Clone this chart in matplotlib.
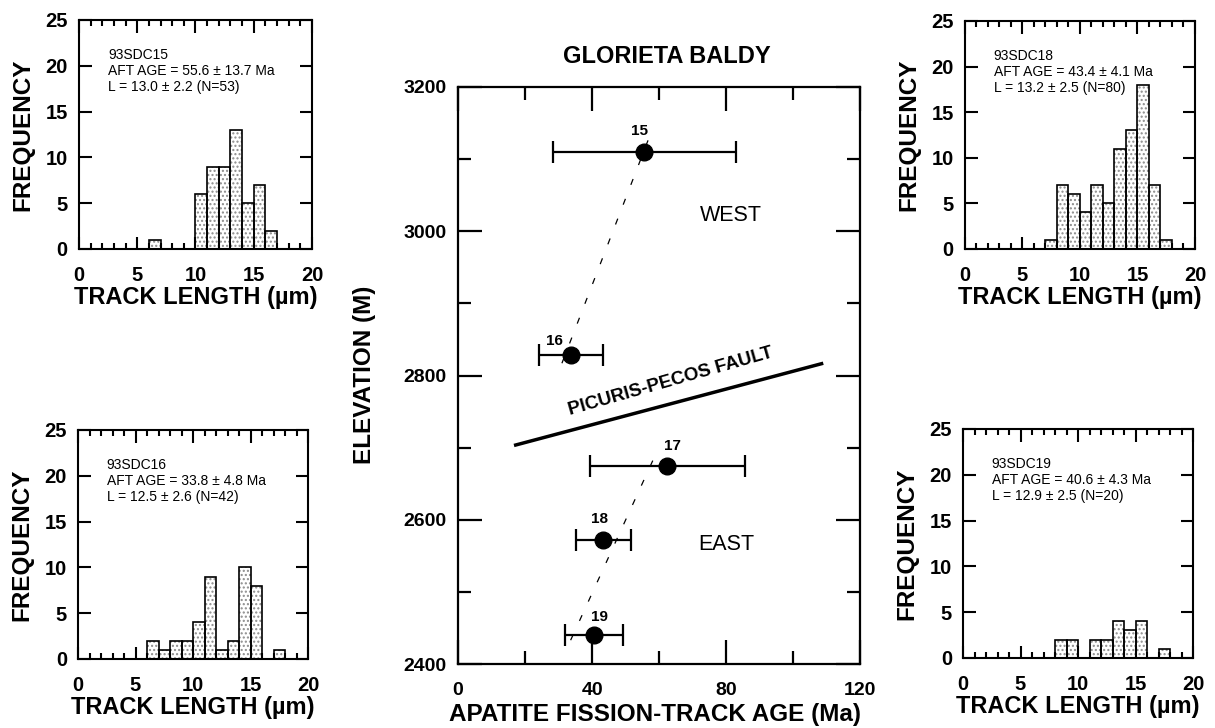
import matplotlib
matplotlib.use("Agg")
import matplotlib.pyplot as plt
import numpy as np

plt.rcParams["font.family"] = ["Liberation Sans", "DejaVu Sans"]
plt.rcParams["font.weight"] = "bold"
plt.rcParams["axes.labelweight"] = "bold"
plt.rcParams["hatch.linewidth"] = 1.0

# 트랙 길이 히스토그램 (1 µm 구간, 0~20)
bin_left = np.arange(20)
freq_15 = [0, 0, 0, 0, 0, 0, 1, 0, 0, 0, 6, 9, 9, 13, 5, 7, 2, 0, 0, 0]
freq_16 = [0, 0, 0, 0, 0, 0, 2, 1, 2, 2, 4, 9, 1, 2, 10, 8, 0, 1, 0, 0]
freq_18 = [0, 0, 0, 0, 0, 0, 0, 1, 7, 6, 4, 7, 5, 11, 13, 18, 7, 1, 0, 0]
freq_19 = [0, 0, 0, 0, 0, 0, 0, 0, 2, 2, 0, 2, 2, 4, 3, 4, 0, 1, 0, 0]

info_15 = "93SDC15\nAFT AGE = 55.6 ± 13.7 Ma\nL = 13.0 ± 2.2 (N=53)"
info_16 = "93SDC16\nAFT AGE = 33.8 ± 4.8 Ma\nL = 12.5 ± 2.6 (N=42)"
info_18 = "93SDC18\nAFT AGE = 43.4 ± 4.1 Ma\nL = 13.2 ± 2.5 (N=80)"
info_19 = "93SDC19\nAFT AGE = 40.6 ± 4.3 Ma\nL = 12.9 ± 2.5 (N=20)"

# 고도-나이 자료
sample_ids = ["15", "16", "17", "18", "19"]
ages = [55.6, 33.8, 62.5, 43.4, 40.6]
age_err = [27.4, 9.6, 23.0, 8.2, 8.6]
elevations = [3110, 2828, 2675, 2572, 2440]
label_offsets = [(-3.6, 15), (-12, 10.5), (3.6, 14.5), (-3.2, 15), (4, 13.2)]

west_trend_age = [31.0, 56.7]
west_trend_elev = [2817, 3126]
east_trend_age = [33.6, 59.3]
east_trend_elev = [2433, 2694]
fault_age = [16.7, 109.0]
fault_elev = [2703, 2817]


def draw_histogram(rect, freq, info):
    ax = fig.add_axes(rect)
    freq = np.array(freq)
    mask = freq > 0
    # 점무늬 채우기
    ax.bar(bin_left[mask], freq[mask], width=1, align="edge", color="white",
           edgecolor="#8c8c8c", hatch="....", linewidth=0)
    ax.bar(bin_left[mask], freq[mask], width=1, align="edge", fill=False,
           edgecolor="black", linewidth=1.2)
    ax.set_xlim(0, 20)
    ax.set_ylim(0, 25)
    ax.set_xticks([0, 5, 10, 15, 20])
    ax.set_xticks(range(21), minor=True)
    ax.set_yticks(range(0, 26, 5))
    ax.tick_params(which="both", direction="in", top=True, right=True, width=1.5)
    ax.tick_params(which="major", length=9, labelsize=14.5)
    ax.tick_params(axis="x", which="major", pad=12)
    ax.tick_params(axis="y", which="major", pad=8)
    ax.tick_params(which="minor", length=4.5)
    for s in ax.spines.values():
        s.set_linewidth(1.5)
    ax.set_xlabel("TRACK LENGTH (µm)", fontsize=17, labelpad=1)
    ax.set_ylabel("FREQUENCY", fontsize=17.5, labelpad=8)
    ax.text(2.5, 21.9, info, fontsize=10, fontweight="normal", va="top",
            ha="left", linespacing=1.15)
    return ax


fig = plt.figure(figsize=(12.15, 7.28), dpi=100)

draw_histogram([0.0650, 0.658, 0.1918, 0.3146], freq_15, info_15)
draw_histogram([0.7942, 0.658, 0.1893, 0.3132], freq_18, info_18)
draw_histogram([0.0642, 0.0948, 0.1893, 0.3146], freq_16, info_16)
draw_histogram([0.7926, 0.0962, 0.1893, 0.3146], freq_19, info_19)

# 가운데 고도-나이 그래프
ax = fig.add_axes([0.377, 0.0879, 0.3309, 0.7926])
ax.plot(west_trend_age, west_trend_elev, color="black", lw=0.9, ls=(0, (5, 12)))
ax.plot(east_trend_age, east_trend_elev, color="black", lw=0.9, ls=(0, (5, 12)))
ax.plot(fault_age, fault_elev, color="black", lw=2.5, solid_capstyle="butt")
ax.errorbar(ages, elevations, xerr=age_err, fmt="o", color="black", ms=12,
            capsize=8, elinewidth=1.6, capthick=1.6, zorder=3)
for sid, x, y, off in zip(sample_ids, ages, elevations, label_offsets):
    ax.annotate(sid, (x, y), xytext=off, textcoords="offset points",
                ha="center", va="center", fontsize=11)

ax.text(81.4, 3022, "WEST", fontsize=15.5, fontweight="normal", ha="center", va="center")
ax.text(80.2, 2566, "EAST", fontsize=15.5, fontweight="normal", ha="center", va="center")
ax.text(63.6, 2791, "PICURIS-PECOS FAULT", fontsize=13.5, ha="center", va="center",
        rotation=15.9, rotation_mode="anchor")

ax.set_xlim(0, 120)
ax.set_ylim(2400, 3200)
ax.set_xticks([0, 40, 80, 120])
ax.set_xticks(range(0, 121, 20), minor=True)
ax.set_yticks(range(2400, 3201, 200))
ax.set_yticks(range(2400, 3201, 100), minor=True)
ax.tick_params(which="both", direction="in", top=True, right=True, width=1.6)
ax.tick_params(which="major", length=17, labelsize=14)
ax.tick_params(which="minor", length=9.5)
ax.tick_params(axis="x", which="major", pad=13)
ax.tick_params(axis="y", which="major", pad=8)
for s in ax.spines.values():
    s.set_linewidth(1.6)

fig.text(666.7 / 1215, 1 - 56.7 / 728, "GLORIETA BALDY", fontsize=17,
         ha="center", va="center")
fig.text(365 / 1215, 1 - 375 / 728, "ELEVATION (M)", fontsize=17.5,
         rotation=90, ha="center", va="center")
fig.text(655 / 1215, 1 - 715 / 728, "APATITE FISSION-TRACK AGE (Ma)", fontsize=17.5,
         ha="center", va="center")

fig.savefig("out.png", dpi=100)
